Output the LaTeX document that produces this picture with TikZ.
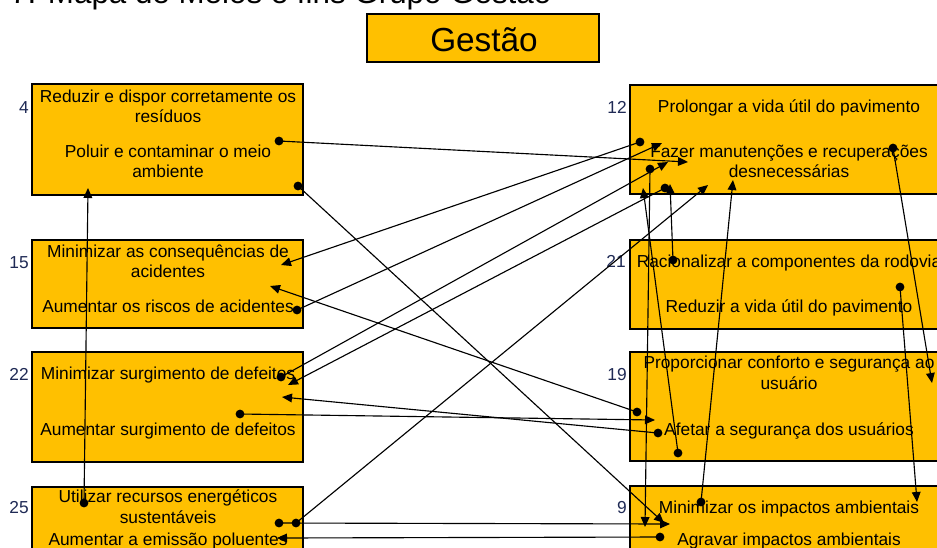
\documentclass[tikz,border=0pt]{standalone}
\usepackage{fontspec}
\setmainfont{Liberation Sans}
\usetikzlibrary{arrows.meta}
\definecolor{boxfill}{HTML}{FFC000}
\definecolor{numblue}{HTML}{1F2A55}
\tikzset{
  goalbox/.style={draw=black, line width=1.7pt, fill=boxfill, inner sep=0pt, outer sep=0pt, anchor=north west},
  txt/.style={font=\fontsize{13}{15}\selectfont, anchor=base, inner sep=0pt},
  num/.style={font=\fontsize{13}{15}\selectfont, text=numblue, anchor=base east, inner sep=0pt},
  link/.style={line width=0.85pt, -{Triangle[length=7.5pt,width=6.5pt]}},
}
\begin{document}
\begin{tikzpicture}[x=0.75pt,y=-0.75pt]
\useasboundingbox (0,0) rectangle (937,547);
\fill[white] (0,0) rectangle (937,547);
\clip (0,0) rectangle (937,547);

% heading (partly above the page edge)
\node[font=\fontsize{23.5}{28}\selectfont, anchor=base west, inner sep=0pt] (heading) at (10,3) {7. Mapa de Meios e fins Grupo Gestão};

% group title
\node[goalbox, minimum width=174pt, minimum height=36pt] (gest) at (367,14) {};
\node[font=\fontsize{25}{30}\selectfont, anchor=base, inner sep=0pt] (gestT) at (484,51) {Gestão};

% left column boxes
\node[goalbox, minimum width=203.25pt, minimum height=83.25pt] (b4)  at (32,84)  {};
\node[goalbox, minimum width=203.25pt, minimum height=66pt]    (b15) at (32,240) {};
\node[goalbox, minimum width=203.25pt, minimum height=82.5pt]  (b22) at (32,352) {};
\node[goalbox, minimum width=203.25pt, minimum height=62.25pt] (b25) at (32,487) {};
% right column boxes
\node[goalbox, minimum width=238.5pt, minimum height=81.75pt] (b12) at (630,85)  {};
\node[goalbox, minimum width=238.5pt, minimum height=66.75pt] (b21) at (630,240) {};
\node[goalbox, minimum width=238.5pt, minimum height=81.75pt] (b19) at (630,352) {};
\node[goalbox, minimum width=238.5pt, minimum height=63pt]    (b9)  at (630,486) {};

% box numbers
\node[num] (n4)  at (29,113) {4};
\node[num] (n15) at (29,268) {15};
\node[num] (n22) at (29,380) {22};
\node[num] (n25) at (29,513) {25};
\node[num] (n12) at (627,113) {12};
\node[num] (n21) at (626,267) {21};
\node[num] (n19) at (627,380) {19};
\node[num] (n9)  at (627,513) {9};

% box texts
\node[txt] (t4a) at (168,102) {Reduzir e dispor corretamente os};
\node[txt] (t4b) at (168,122) {resíduos};
\node[txt] (t4c) at (168,157) {Poluir e contaminar o meio};
\node[txt] (t4d) at (168,177) {ambiente};

\node[txt] (t15a) at (168,257) {Minimizar as consequências de};
\node[txt] (t15b) at (168,277) {acidentes};
\node[txt] (t15c) at (168,312) {Aumentar os riscos de acidentes};

\node[txt] (t22a) at (168,379) {Minimizar surgimento de defeitos};
\node[txt] (t22b) at (168,435) {Aumentar surgimento de defeitos};

\node[txt] (t25a) at (168,502) {Utilizar recursos energéticos};
\node[txt] (t25b) at (168,523) {sustentáveis};
\node[txt] (t25c) at (168,545) {Aumentar a emissão poluentes};

\node[txt] (t12a) at (789,112) {Prolongar a vida útil do pavimento};
\node[txt] (t12b) at (789,157) {Fazer manutenções e recuperações};
\node[txt] (t12c) at (789,177) {desnecessárias};

\node[txt] (t21a) at (789,267) {Racionalizar a componentes da rodovia};
\node[txt] (t21b) at (789,312) {Reduzir a vida útil do pavimento};

\node[txt] (t19a) at (789,368) {Proporcionar conforto e segurança ao};
\node[txt] (t19b) at (789,389) {usuário};
\node[txt] (t19c) at (789,435) {Afetar a segurança dos usuários};

\node[txt] (t9a) at (789,513) {Minimizar os impactos ambientais};
\node[txt] (t9b) at (789,545) {Agravar impactos ambientais};

% connector end points: a = start (dot), b = arrow tip
\coordinate (a1)  at (279,141); \coordinate (b1)  at (688,162);
\coordinate (a2)  at (298,186); \coordinate (b2)  at (664,523);
\coordinate (a3)  at (640,142); \coordinate (b3)  at (281,265);
\coordinate (a4)  at (297,310); \coordinate (b4)  at (662,143);
\coordinate (a5)  at (281,377); \coordinate (b5)  at (668,162);
\coordinate (a6)  at (665,188); \coordinate (b6)  at (288,385);
\coordinate (a7)  at (240,414); \coordinate (b7)  at (655,420);
\coordinate (a8)  at (658,433); \coordinate (b8)  at (282,397);
\coordinate (a9)  at (637,412); \coordinate (b9)  at (270,286);
\coordinate (a10) at (678,453); \coordinate (b10) at (643,188);
\coordinate (a11) at (673,260); \coordinate (b11) at (670,184);
\coordinate (a12) at (900,287); \coordinate (b12) at (917,502);
\coordinate (a13) at (893,148); \coordinate (b13) at (932,383);
\coordinate (a14) at (701,502); \coordinate (b14) at (733,180);
\coordinate (a15) at (296,523); \coordinate (b15) at (708,185);
\coordinate (a16) at (279,523); \coordinate (b16) at (670,524);
\coordinate (a17) at (660,537); \coordinate (b17) at (277,538);
\coordinate (a18) at (84,503);  \coordinate (b18) at (88,188);
\coordinate (a19) at (650,169); \coordinate (b19) at (645,527);

\foreach \i in {1,...,19} {
  \draw[link] (a\i) -- (b\i);
}
\foreach \i in {1,...,19} {
  \fill (a\i) circle[radius=3.3pt];
}
\end{tikzpicture}
\end{document}
